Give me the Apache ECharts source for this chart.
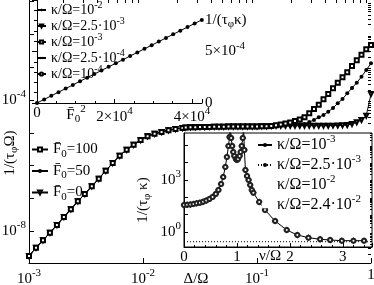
<!DOCTYPE html>
<html><head><meta charset="utf-8">
<script src="https://cdn.jsdelivr.net/npm/echarts@6/dist/echarts.min.js"></script>
<style>html,body{margin:0;padding:0;background:#fff}#c{width:374px;height:285px}</style>
</head><body><div id="c"></div>
<script>
// ---- main panel: 1/(tau_phi Omega) vs Delta/Omega ----
const delta = [0.001,0.001151,0.001326,0.001526,0.001757,0.002023,0.002329,0.002682,0.003087,0.003554,0.004093,0.004712,0.005425,0.006246,0.007192,0.008279,0.009532,0.01097,0.01264,0.01455,0.01675,0.01928,0.0222,
0.02371,0.0261,0.02873,0.03162,0.03481,0.03831,0.04217,0.04642,0.05109,0.05623,0.0619,0.06813,0.07499,0.08254,0.09085,0.1,0.1101,0.1212,0.1334,0.1468,0.1616,0.1778,0.1957,0.2154,0.2371,0.261,0.2873,0.3162,0.3481,0.3831,0.4217,0.4642,0.5109,0.5623,0.619,0.6813,0.7499,0.8254,0.9085,1.0];
const rateF100 = [1.73e-9,3.09e-9,5.20e-9,8.87e-9,1.52e-8,2.67e-8,4.60e-8,8.07e-8,1.35e-7,2.32e-7,3.95e-7,6.93e-7,1.19e-6,1.99e-6,3.03e-6,4.32e-6,6.01e-6,7.80e-6,9.35e-6,1.05e-5,1.19e-5,1.30e-5,1.40e-5,
1.44e-5,1.46e-5,1.47e-5,1.49e-5,1.50e-5,1.51e-5,1.52e-5,1.53e-5,1.53e-5,1.54e-5,1.54e-5,1.55e-5,1.55e-5,1.55e-5,1.56e-5,1.56e-5,1.57e-5,1.58e-5,
1.61e-5,1.69e-5,1.79e-5,1.91e-5,2.06e-5,2.29e-5,2.54e-5,
2.96e-5,3.93e-5,5.31e-5,7.18e-5,1.05e-4,1.52e-4,2.28e-4,3.37e-4,4.93e-4,7.01e-4,1.09e-3,1.63e-3,2.42e-3,3.53e-3,4.78e-3];
const rateF50 = [1.73e-9,3.09e-9,5.20e-9,8.87e-9,1.52e-8,2.67e-8,4.60e-8,8.07e-8,1.35e-7,2.32e-7,3.95e-7,6.93e-7,1.19e-6,1.99e-6,3.03e-6,4.32e-6,6.01e-6,7.80e-6,9.35e-6,1.05e-5,1.19e-5,1.30e-5,1.40e-5,
1.44e-5,1.46e-5,1.47e-5,1.49e-5,1.50e-5,1.51e-5,1.52e-5,1.53e-5,1.53e-5,1.54e-5,1.54e-5,1.55e-5,1.55e-5,1.55e-5,1.56e-5,1.56e-5,1.57e-5,1.58e-5,
1.61e-5,1.65e-5,1.69e-5,1.72e-5,1.75e-5,1.78e-5,1.81e-5,
1.85e-5,2.13e-5,2.45e-5,2.96e-5,3.48e-5,4.40e-5,5.70e-5,7.92e-5,1.07e-4,1.60e-4,2.32e-4,3.37e-4,5.14e-4,8.24e-4,1.32e-3];
const rateF0 = [1.73e-9,3.09e-9,5.20e-9,8.87e-9,1.52e-8,2.67e-8,4.60e-8,8.07e-8,1.35e-7,2.32e-7,3.95e-7,6.93e-7,1.19e-6,1.99e-6,3.03e-6,4.32e-6,6.01e-6,7.80e-6,9.35e-6,1.05e-5,1.19e-5,1.30e-5,1.40e-5,
1.44e-5,1.46e-5,1.47e-5,1.49e-5,1.50e-5,1.51e-5,1.52e-5,1.53e-5,1.53e-5,1.54e-5,1.54e-5,1.55e-5,1.55e-5,1.55e-5,1.56e-5,1.56e-5,1.57e-5,1.58e-5,
1.61e-5,1.62e-5,1.62e-5,1.63e-5,1.63e-5,1.63e-5,1.64e-5,
1.64e-5,1.64e-5,1.64e-5,1.64e-5,1.64e-5,1.64e-5,1.65e-5,1.66e-5,1.68e-5,1.72e-5,1.85e-5,2.08e-5,2.45e-5,3.32e-5,1.52e-4];
const mainLegend = ['F0=100','F0=50','F0=0'];

// ---- top-left inset: 1/(tau_phi kappa) vs F0^2 ----
const f0sq = [0,1850,3700,5550,7400,9250,11100,12950,14800,16650,18500,20350,22200,24050,25900,27750,29600,31450,33300,35150,37000,38850,40700,42550];
const rateKappa = [0,3.5e-5,7.0e-5,1.05e-4,1.40e-4,1.75e-4,2.11e-4,2.46e-4,2.81e-4,3.16e-4,3.51e-4,3.86e-4,4.21e-4,4.56e-4,4.91e-4,5.26e-4,5.61e-4,5.96e-4,6.32e-4,6.67e-4,7.02e-4,7.37e-4,7.72e-4,8.07e-4];
const insetKappas = ['10^-2','2.5·10^-3','10^-3','2.5·10^-4','10^-4'];

// ---- bottom-right inset: 1/(tau_phi kappa) vs nu/Omega ----
const nu = [0,0.06,0.12,0.18,0.24,0.30,0.36,0.42,0.48,0.54,0.60,0.65,0.70,0.74,0.78,0.81,0.84,0.86,0.875,0.89,0.91,0.93,0.95,0.98,1.00,1.02,1.05,1.07,1.09,1.11,1.125,1.14,1.16,1.19,1.22,1.25,1.28,1.31,1.42,1.53,1.72,1.94,2.14,2.35,2.57,2.76,2.98,3.2,3.4];
const rateNu = [36.1,37.1,38.6,41.3,44.7,49.1,55.3,64.9,80.2,105,156,265,589,1490,5640,21300,91700,303000,1.0e6,265000,91700,41300,24300,16300,14300,16300,24300,41300,91700,265000,1.0e6,54000,3780,1700,1000,515,265,185,53.8,18.6,4.31,1.30,0.671,0.469,0.379,0.345,0.315,0.315,0.315];
const nuDotted = [0,3.55];
const rateDotted = [0.275,0.275];
const nuKappas = ['10^-3','2.5·10^-3','10^-2','2.4·10^-2'];

// ---- helpers ----
const FONT = "'Liberation Serif','DejaVu Serif',serif";
function rich(size){
  const s = Math.round(size*0.7);
  return {
    t:{fontFamily:FONT,fontSize:size,color:'#000'},
    sup:{fontFamily:FONT,fontSize:s,color:'#000',padding:[0,0,Math.round(size*0.7),0]},
    sub:{fontFamily:FONT,fontSize:s,color:'#000',padding:[Math.round(size*0.6),0,0,0]}
  };
}
function pow10Label(v){
  const e = Math.round(Math.log10(v));
  if (e === 0) return '{t|1}';
  return '{t|10}{sup|' + e + '}';
}
function pow10Always(v){
  return '{t|10}{sup|' + Math.round(Math.log10(v)) + '}';
}
function kappaText(k){
  const p = k.split('^');
  return '{t|κ/Ω=' + p[0] + '}{sup|' + p[1] + '}';
}
function decades(a,b){const r=[];for(let e=a;e<=b;e++)r.push(Math.pow(10,e));return r;}
function minors(a,b){const r=[];for(let e=a;e<=b;e++)for(let k=2;k<=9;k++)r.push(k*Math.pow(10,e));return r;}
const black = '#000';
const axLine = {show:true,lineStyle:{color:black,width:1}};
const SYM = 4;
const emptyStyle = {color:'#fff',borderColor:black,borderWidth:1};

const chart = echarts.init(document.getElementById('c'));
const option = {
  animation:false,
  backgroundColor:'#fff',
  grid:[
    {left:29,top:0,width:342,height:263,outerBoundsMode:'none',containLabel:false},
    {left:37,top:0,width:165,height:103,outerBoundsMode:'none',containLabel:false},
    {left:184,top:133,width:188,height:114,outerBoundsMode:'none',containLabel:false,show:true,backgroundColor:'#fff',borderColor:black,borderWidth:1,z:5}
  ],
  xAxis:[
    {gridIndex:0,type:'log',logBase:10,min:0.001,max:1,axisLine:axLine,splitLine:{show:false},
     axisTick:{inside:true,length:5,lineStyle:{color:black},customValues:decades(-3,0)},
     axisLabel:{customValues:decades(-3,0),formatter:pow10Label,rich:rich(15),margin:5}},
    {gridIndex:0,type:'log',logBase:10,min:0.001,max:1,axisLine:{show:false},splitLine:{show:false},
     axisTick:{inside:true,length:3,lineStyle:{color:black},customValues:minors(-3,-1)},axisLabel:{show:false}},
    {gridIndex:1,type:'value',min:0,max:42600,interval:20000,axisLine:axLine,splitLine:{show:false},
     axisTick:{inside:true,length:4,lineStyle:{color:black}},
     minorTick:{show:true,splitNumber:4,length:2,lineStyle:{color:black}},
     axisLabel:{showMaxLabel:false,margin:3,rich:rich(15),formatter:v=>v===0?'{t|0}':'{t|'+(v/1e4)+'×10}{sup|4}'}},
    {gridIndex:2,type:'value',min:0,max:3.55,interval:1,axisLine:axLine,splitLine:{show:false},z:6,
     axisTick:{inside:true,length:4,lineStyle:{color:black}},
     minorTick:{show:true,splitNumber:5,length:2,lineStyle:{color:black}},
     axisLabel:{showMaxLabel:false,margin:3,rich:rich(15),formatter:v=>'{t|'+v+'}'}}
  ],
  yAxis:[
    {gridIndex:0,type:'log',logBase:10,min:1.055e-9,max:0.113,axisLine:axLine,splitLine:{show:false},
     axisTick:{inside:true,length:5,lineStyle:{color:black},customValues:decades(-9,-1)},
     axisLabel:{customValues:[1e-8,1e-4],formatter:pow10Label,rich:rich(15),margin:3}},
    {gridIndex:0,type:'log',logBase:10,min:1.055e-9,max:0.113,axisLine:{show:false},splitLine:{show:false},
     axisTick:{inside:true,length:3,lineStyle:{color:black},customValues:minors(-9,-2)},axisLabel:{show:false}},
    {gridIndex:1,type:'value',position:'right',min:0,max:1e-3,interval:5e-4,axisLine:axLine,splitLine:{show:false},
     axisTick:{inside:true,length:5,lineStyle:{color:black}},
     minorTick:{show:true,splitNumber:5,length:3,lineStyle:{color:black}},
     axisLabel:{showMaxLabel:false,margin:3,rich:rich(15),formatter:v=>v===0?'{t|0}':'{t|5×10}{sup|-4}'}},
    {gridIndex:1,type:'value',position:'left',min:0,max:1e-3,axisLine:axLine,splitLine:{show:false},axisTick:{show:false},axisLabel:{show:false}},
    {gridIndex:2,type:'log',logBase:10,min:0.136,max:5.1e5,axisLine:axLine,splitLine:{show:false},z:6,
     axisTick:{inside:true,length:4,lineStyle:{color:black},customValues:decades(0,5)},
     axisLabel:{customValues:[1,1000],formatter:pow10Always,rich:rich(15),margin:3}},
    {gridIndex:2,type:'log',logBase:10,min:0.136,max:5.1e5,axisLine:{show:false},splitLine:{show:false},z:6,
     axisTick:{inside:true,length:2,lineStyle:{color:black},customValues:minors(-1,5)},axisLabel:{show:false}}
  ],
  legend:[
    {orient:'vertical',left:31,top:142,itemWidth:16,itemHeight:5,itemGap:4,padding:0,z:10,
     data:mainLegend,
     formatter:n=>'{t|F\u0304}{sub|0}{t|='+n.split('=')[1]+'}',
     textStyle:{rich:rich(15)}},
    {orient:'vertical',left:36,top:0,itemWidth:9,itemHeight:4,itemGap:-1,padding:0,z:10,
     data:insetKappas.map(k=>'A'+k),
     formatter:n=>kappaText(n.slice(1)),
     textStyle:{rich:rich(14)}},
    {orient:'vertical',left:257,top:134,itemWidth:14,itemHeight:5,itemGap:1,padding:0,z:10,
     data:[
       {name:'B'+nuKappas[0]},
       {name:'B'+nuKappas[1]},
       {name:'B'+nuKappas[2],icon:'emptyDiamond',itemStyle:emptyStyle},
       {name:'B'+nuKappas[3],icon:'emptyCircle',itemStyle:{color:'#fff',borderColor:'#777',borderWidth:1}}
     ],
     formatter:n=>kappaText(n.slice(1)),
     textStyle:{rich:rich(16)}}
  ],
  series:[
    {name:'F0=0',type:'line',xAxisIndex:0,yAxisIndex:0,data:delta.map((d,i)=>[d,rateF0[i]]),
     symbol:'emptyTriangle',symbolRotate:180,symbolSize:SYM,lineStyle:{color:black,width:1},itemStyle:{color:black,borderWidth:1}},
    {name:'F0=50',type:'line',xAxisIndex:0,yAxisIndex:0,data:delta.map((d,i)=>[d,rateF50[i]]),
     symbol:'circle',symbolSize:SYM,lineStyle:{color:black,width:1},itemStyle:{color:black}},
    {name:'F0=100',type:'line',xAxisIndex:0,yAxisIndex:0,data:delta.map((d,i)=>[d,rateF100[i]]),
     symbol:'emptyRect',symbolSize:SYM,lineStyle:{color:black,width:1},itemStyle:{color:black,borderWidth:1}},
    {name:'inset',type:'line',xAxisIndex:2,yAxisIndex:2,data:f0sq.map((f,i)=>[f,rateKappa[i]]),
     symbol:'circle',symbolSize:SYM,lineStyle:{color:black,width:1},itemStyle:{color:black}},
    {name:'A10^-2',type:'line',xAxisIndex:2,yAxisIndex:2,data:[],symbol:'path://M4,0H6V4H10V6H6V10H4V6H0V4H4Z',symbolSize:4,lineStyle:{color:black,width:1},itemStyle:{color:black}},
    {name:'A2.5·10^-3',type:'line',xAxisIndex:2,yAxisIndex:2,data:[],symbol:'emptyTriangle',symbolRotate:180,symbolSize:4,lineStyle:{color:black,width:1},itemStyle:{color:black,borderWidth:1}},
    {name:'A10^-3',type:'line',xAxisIndex:2,yAxisIndex:2,data:[],symbol:'emptyRect',symbolSize:4,lineStyle:{color:black,width:1},itemStyle:{color:black,borderWidth:1}},
    {name:'A2.5·10^-4',type:'line',xAxisIndex:2,yAxisIndex:2,data:[],symbol:'path://M4,0H6V4H10V6H6V10H4V6H0V4H4Z',symbolRotate:45,symbolSize:4,lineStyle:{color:black,width:1},itemStyle:{color:black}},
    {name:'A10^-4',type:'line',xAxisIndex:2,yAxisIndex:2,data:[],symbol:'emptyCircle',symbolSize:4,lineStyle:{color:black,width:1},itemStyle:{color:black,borderWidth:1}},
    {name:'B10^-3',type:'line',xAxisIndex:3,yAxisIndex:4,data:nu.map((v,i)=>[v,rateNu[i]]),showSymbol:false,symbol:'none',z:6,
     lineStyle:{color:black,width:1},itemStyle:{color:black}},
    {name:'B2.5·10^-3',type:'line',xAxisIndex:3,yAxisIndex:4,data:nuDotted.map((v,i)=>[v,rateDotted[i]]),symbol:'none',z:6,
     lineStyle:{color:black,width:1,type:[1,2]},itemStyle:{color:black}},
    {name:'B10^-2',type:'line',xAxisIndex:3,yAxisIndex:4,data:nu.map((v,i)=>[v,rateNu[i]]),symbol:'emptyDiamond',symbolSize:4,z:7,
     lineStyle:{width:0,opacity:0},itemStyle:{color:black,borderWidth:1}},
    {name:'B2.4·10^-2',type:'line',xAxisIndex:3,yAxisIndex:4,data:nu.map((v,i)=>[v,rateNu[i]]),symbol:'emptyCircle',symbolSize:4,z:7,
     lineStyle:{width:0,opacity:0},itemStyle:{color:'#222',borderWidth:1}}
  ],
  graphic:[
    {type:'text',x:10,y:153,rotation:Math.PI/2,style:{text:'{t|1/(τ}{sub|φ}{t|Ω)}',rich:rich(15),align:'center',verticalAlign:'middle'}},
    {type:'text',x:196,y:279,style:{text:'{t|Δ/Ω}',rich:rich(15),align:'center',verticalAlign:'middle'}},
    {type:'text',x:143,y:200,rotation:Math.PI/2,z:10,style:{text:'{t|1/(τ}{sub|φ}{t| κ)}',rich:rich(15),align:'center',verticalAlign:'middle'}},
    {type:'text',x:270,y:256,z:10,style:{text:'{t|ν/Ω}',rich:rich(15),align:'center',verticalAlign:'middle'}},
    {type:'text',x:205,y:20,style:{text:'{t|1/(τ}{sub|φ}{t|κ)}',rich:rich(15),align:'left',verticalAlign:'middle'}},
    {type:'text',x:76,y:115,style:{text:'{t|F\u0304}{sub|0}{sup|2}',rich:rich(15),align:'center',verticalAlign:'middle'}}
  ]
};
chart.setOption(option);
</script></body></html>
